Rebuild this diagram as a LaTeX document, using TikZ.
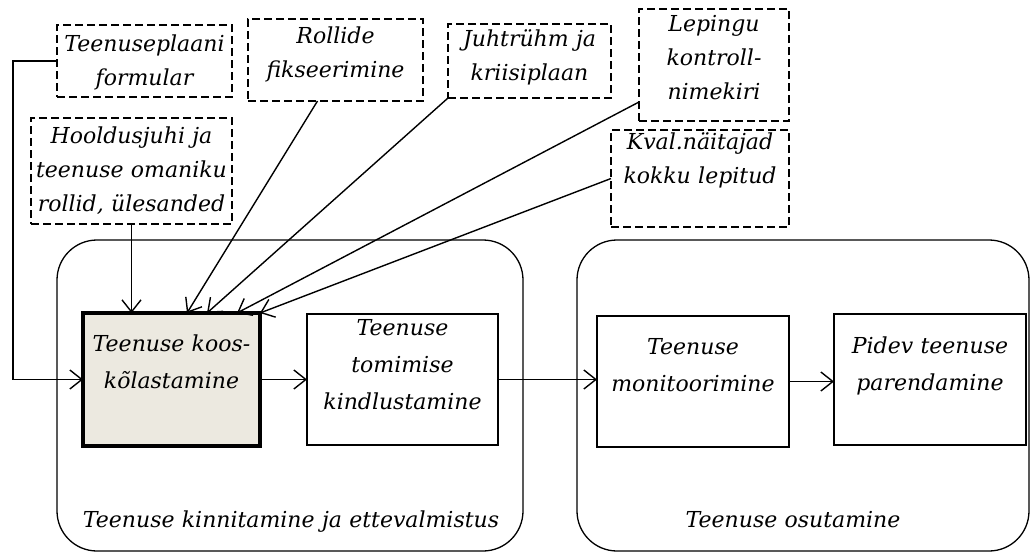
\documentclass[tikz,border=0pt]{standalone}
\usepackage{fontspec}
\setmainfont{DejaVu Serif}
\usetikzlibrary{arrows.meta}
\definecolor{keyfill}{RGB}{236,233,224}
\begin{document}
\begin{tikzpicture}[x=1pt,y=-1pt,
  every node/.style={inner sep=0pt, outer sep=0pt},
  docbox/.style={draw, dash pattern=on 8pt off 4pt, line width=1.4pt},
  stepbox/.style={draw, line width=1.4pt, fill=white},
  keybox/.style={draw, line width=4.5pt, fill=keyfill},
  phase/.style={draw, line width=1.3pt, rounded corners=40pt},
  boxtxt/.style={anchor=base, align=center, text width=240pt,
    font={\fontsize{22}{34}\selectfont\itshape}},
  steptxt/.style={anchor=base, align=center, text width=520pt,
    font={\fontsize{22}{37}\selectfont\itshape}},
  flow/.style={line width=1.4pt, -{Straight Barb[length=12pt,width=19pt]}},
]
\path[use as bounding box] (0,0) rectangle (1031,552);

% the two phases
\node[phase, minimum width=466pt, minimum height=311pt] (prep) at (290,395.5) {};
\node[phase, minimum width=452pt, minimum height=311pt] (serve) at (803,395.5) {};
\node[steptxt] (prep-l) at (291,527.7) {Teenuse kinnitamine ja ettevalmistus};
\node[steptxt] (serve-l) at (793,527.7) {Teenuse osutamine};

% process steps
\node[keybox, minimum width=177pt, minimum height=133pt] (key) at (171.5,379.5) {};
\node[stepbox, minimum width=191pt, minimum height=131pt] (ensure) at (402.5,379.5) {};
\node[stepbox, minimum width=192pt, minimum height=131pt] (monitor) at (693,381.5) {};
\node[stepbox, minimum width=192pt, minimum height=131pt] (improve) at (930,379.5) {};
\node[steptxt] (key-t) at (171.5,351.7) {Teenuse koos-\\kõlastamine};
\node[steptxt] (ensure-t) at (402.5,335.7) {Teenuse\\tomimise\\kindlustamine};
\node[steptxt] (monitor-t) at (693,354.7) {Teenuse\\monitoorimine};
\node[steptxt] (improve-t) at (930,353.7) {Pidev teenuse\\parendamine};

% supporting documents
\node[docbox, minimum width=175pt, minimum height=72pt] (plan) at (144.5,61) {};
\node[docbox, minimum width=175pt, minimum height=82pt] (roles) at (335.5,60) {};
\node[docbox, minimum width=163pt, minimum height=74pt] (crisis) at (529.5,61) {};
\node[docbox, minimum width=150pt, minimum height=112pt] (contract) at (714,65) {};
\node[docbox, minimum width=178pt, minimum height=97pt] (kpi) at (700,178.5) {};
\node[docbox, minimum width=201pt, minimum height=106pt] (duty) at (131.5,171) {};
\node[boxtxt] (plan-t) at (144.5,51.7) {Teenuseplaani\\formular};
\node[boxtxt] (roles-t) at (335.5,43.7) {Rollide\\fikseerimine};
\node[boxtxt] (crisis-t) at (529.5,46.7) {Juhtrühm ja\\kriisiplaan};
\node[boxtxt] (contract-t) at (714,31.7) {Lepingu\\kontroll-\\nimekiri};
\node[boxtxt] (kpi-t) at (700,149.7) {Kval.näitajad\\kokku lepitud};
\node[boxtxt] (duty-t) at (131.5,143.7) {Hooldusjuhi ja\\teenuse omaniku\\rollid, ülesanded};

% inputs to the coordination step
\draw[flow] (plan.west) -- ++(-44,0) |- (key.west);
\draw[flow] (duty.south) -- (duty.south |- key.north);
\draw[flow] ([xshift=-18pt]roles.south) -- ([xshift=104pt]key.north west);
\draw[flow] (crisis.south west) -- ([xshift=124pt]key.north west);
\draw[flow] ([yshift=19pt]contract.south west) -- ([xshift=154pt]key.north west);
\draw[flow] (kpi.west) -- (key.north east);

% main flow
\draw[flow] (key.east) -- (ensure.west);
\draw[flow] (ensure.east) -- (ensure.east -| monitor.west);
\draw[flow] (monitor.east) -- (monitor.east -| improve.west);
\end{tikzpicture}
\end{document}
